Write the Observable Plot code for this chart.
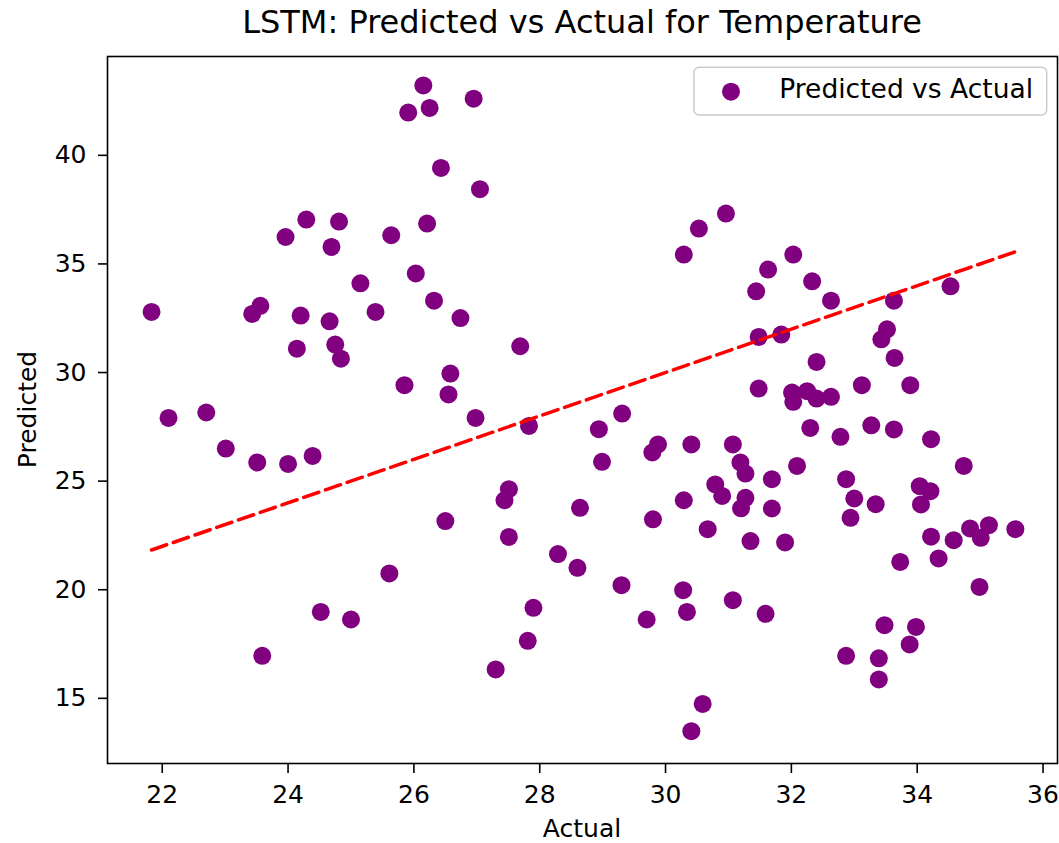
<!DOCTYPE html>
<html><head><meta charset="utf-8">
<script src="https://cdn.jsdelivr.net/npm/d3@7"></script>
<script src="https://cdn.jsdelivr.net/npm/@observablehq/plot@0.6"></script>
<style>
body{margin:0;background:#fff;font-family:"DejaVu Sans",sans-serif;}
#wrap{position:relative;width:1059px;height:843px;overflow:hidden;}
#title{position:absolute;left:107px;width:950px;top:6px;text-align:center;font-size:32px;line-height:32px;color:#000;white-space:nowrap;}
#chart{position:absolute;left:0;top:40px;}
#chart svg [aria-label*="axis"] line, #chart svg [aria-label*="axis"] path{stroke-width:1.6px;}
</style></head><body>
<div id="wrap"><div id="title">LSTM: Predicted vs Actual for Temperature</div><div id="chart"></div></div>
<script>
const actual = [21.83,22.10,22.70,23.01,23.43,23.56,23.51,23.59,23.96,24.00,24.14,24.20,24.29,24.39,24.52,24.66,24.69,24.75,24.81,24.84,25.00,25.15,25.39,25.61,25.64,25.85,25.91,26.03,26.15,26.21,26.25,26.32,26.43,26.50,26.55,26.58,26.74,26.95,26.98,27.05,27.30,27.44,27.51,27.51,27.69,27.81,27.83,27.90,28.29,28.60,28.64,28.94,28.99,29.30,29.31,29.70,29.79,29.80,29.88,30.28,30.29,30.29,30.34,30.41,30.41,30.53,30.59,30.67,30.79,30.90,30.96,31.07,31.07,31.19,31.27,31.27,31.20,31.35,31.44,31.48,31.48,31.59,31.63,31.69,31.69,31.84,31.90,32.03,32.01,32.03,32.09,32.25,32.30,32.33,32.40,32.40,32.63,32.63,32.78,32.87,32.87,32.94,33.00,33.12,33.27,33.34,33.39,33.39,33.43,33.48,33.52,33.63,33.63,33.64,33.73,33.88,33.89,33.98,34.04,34.06,34.21,34.22,34.22,34.34,34.53,34.58,34.74,34.84,34.99,35.01,35.14,35.56];
const predicted = [32.79,27.91,28.16,26.50,32.70,33.07,25.86,16.96,36.24,25.79,31.10,32.62,37.04,26.16,18.98,32.36,35.78,31.29,36.95,30.64,18.63,34.11,32.79,20.75,36.32,29.42,41.97,34.56,43.22,36.86,42.18,33.31,39.42,23.16,28.99,29.95,32.51,42.61,27.91,38.44,16.33,24.12,24.63,22.43,31.21,17.65,27.54,19.17,21.64,21.01,23.77,27.39,25.89,20.21,28.11,18.63,26.32,23.24,26.69,19.98,35.43,24.12,18.98,26.69,13.49,36.63,14.74,22.79,24.85,24.32,37.32,26.69,19.52,25.86,25.35,24.23,23.75,22.24,33.74,31.64,29.26,18.89,34.74,25.09,23.74,31.75,22.18,35.43,29.08,28.65,25.70,29.14,27.45,34.20,30.49,28.80,33.31,28.88,27.04,25.09,16.96,23.31,24.20,29.42,27.57,23.94,16.84,15.87,31.53,18.37,31.99,33.31,27.38,30.67,21.28,17.48,29.42,18.29,24.77,23.93,24.54,26.93,22.44,21.44,33.97,22.28,25.70,22.82,20.13,22.39,22.97,22.79];
const xTicks = [22,24,26,28,30,32,34,36];
const yTicks = [15,20,25,30,35,40];
const seriesName = "Predicted vs Actual";
const xLabel = "Actual";
const yLabel = "Predicted";

const points = actual.map((a, i) => ({a, p: predicted[i]}));
const ext = d3.extent(actual);
const ideal = [{v: ext[0]}, {v: ext[1]}];

const W = 1059, H = 803;
const mL = 107, mR = 2, mT = 16, mB = 80;
const off = 40; // svg top in page

const svg = Plot.plot({
  width: W, height: H,
  marginLeft: mL, marginRight: mR, marginTop: mT, marginBottom: mB,
  style: {fontFamily: "DejaVu Sans", fontSize: "25px", color: "black", background: "white", overflow: "visible"},
  x: {domain: [21.13, 36.23], ticks: xTicks, tickSize: 10, tickPadding: 12, label: null},
  y: {domain: [12.0, 44.55], ticks: yTicks, tickSize: 9, tickPadding: 12, label: null},
  marks: [
    Plot.dot(points, {x: "a", y: "p", r: 9, fill: "purple", stroke: "none"}),
    Plot.line(ideal, {x: "v", y: "v", stroke: "red", strokeWidth: 3.5, strokeDasharray: "16,7"}),
    Plot.frame({stroke: "black", strokeWidth: 1.6})
  ]
});
document.getElementById("chart").appendChild(svg);

const s = d3.select(svg);
// axis labels
s.append("text").attr("x", mL + (W - mL - mR) / 2).attr("y", 836.5 - off)
  .attr("text-anchor", "middle").attr("font-size", 25).attr("fill", "black").text(xLabel);
s.append("text").attr("transform", `translate(36,${mT + (H - mT - mB) / 2}) rotate(-90)`)
  .attr("text-anchor", "middle").attr("font-size", 25).attr("fill", "black").text(yLabel);
// legend
const lg = s.append("g").attr("text-anchor", "start");
lg.append("rect").attr("x", 694).attr("y", 67.3 - off).attr("width", 352.7).attr("height", 47.7)
  .attr("rx", 5).attr("fill", "white").attr("fill-opacity", 0.8).attr("stroke", "#cccccc").attr("stroke-width", 1.5);
lg.append("circle").attr("cx", 731).attr("cy", 91.7 - off).attr("r", 9).attr("fill", "purple");
lg.append("text").attr("x", 779.3).attr("y", 97.8 - off).attr("text-anchor", "start")
  .attr("font-size", 26.5).attr("fill", "black").text(seriesName);
</script>
</body></html>
